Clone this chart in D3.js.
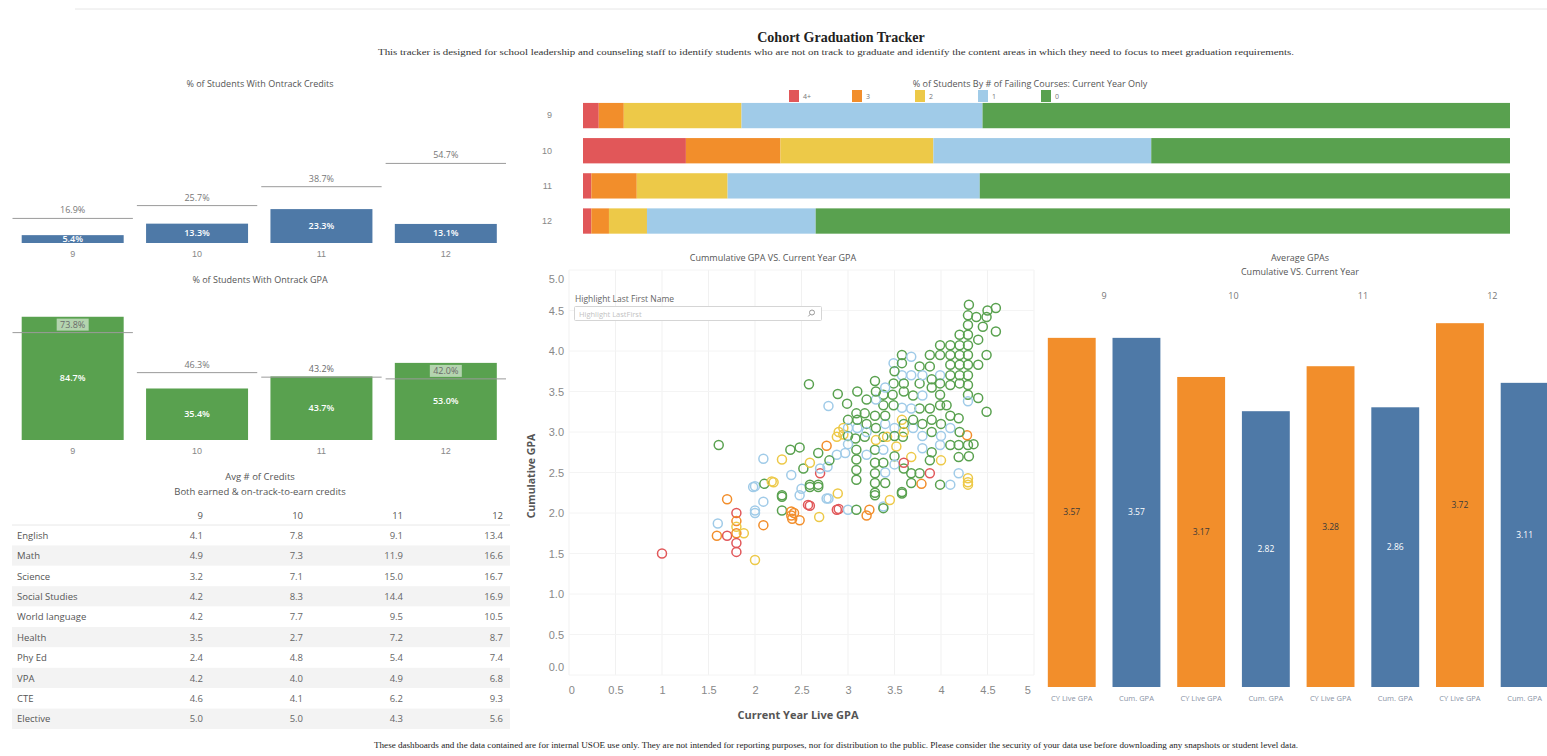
<!DOCTYPE html>
<html><head><meta charset="utf-8">
<script src="https://cdn.jsdelivr.net/npm/d3@7"></script>
<style>
html,body{margin:0;padding:0;background:#fff;overflow:hidden}
svg{display:block;font-family:"Open Sans",sans-serif}
.ttl{font-size:9px;fill:#555}
.tick text{fill:#888}
</style></head><body>
<svg id="c" width="1547" height="756"></svg>
<script>
// ---------- DATA ----------
const grades = ["9","10","11","12"];
const ontrackCredits = [5.4, 13.3, 23.3, 13.1];
const creditsTarget = [16.9, 25.7, 38.7, 54.7];
const ontrackGPA = [84.7, 35.4, 43.7, 53.0];
const gpaTarget = [73.8, 46.3, 43.2, 42.0];

const failCats = ["4+","3","2","1","0"];
const failColors = ["#e15759","#f28e2b","#edc948","#a0cbe8","#59a14f"];
const fail9  = [1.7, 2.7, 12.7, 26.0, 56.9];
const fail10 = [11.1, 10.2, 16.5, 23.5, 38.7];
const fail11 = [0.9, 4.9, 9.8, 27.2, 57.2];
const fail12 = [0.9, 1.9, 4.1, 18.2, 74.9];

const subjects = ["English","Math","Science","Social Studies","World language","Health","Phy Ed","VPA","CTE","Elective"];
const credits9  = [4.1, 4.9, 3.2, 4.2, 4.2, 3.5, 2.4, 4.2, 4.6, 5.0];
const credits10 = [7.8, 7.3, 7.1, 8.3, 7.7, 2.7, 4.8, 4.0, 4.1, 5.0];
const credits11 = [9.1, 11.9, 15.0, 14.4, 9.5, 7.2, 5.4, 4.9, 6.2, 4.3];
const credits12 = [13.4, 16.6, 16.7, 16.9, 10.5, 8.7, 7.4, 6.8, 9.3, 5.6];

const gpaMeasures = ["CY Live GPA","Cum. GPA"];
const cyLiveGPA = [3.57, 3.17, 3.28, 3.72];
const cumGPA = [3.57, 2.82, 2.86, 3.11];

const scatterTicks = [0,0.5,1,1.5,2,2.5,3,3.5,4,4.5,5];
// [current year GPA, cumulative GPA, number of failing courses (4 = 4+)]
const scatterPoints = [
[1.0,1.5,4],[1.6,1.87,1],[1.59,1.72,3],[1.7,1.72,4],[1.7,2.17,3],[1.8,2.0,4],[1.8,1.9,3],[1.8,1.83,2],
[1.8,1.75,3],[1.8,1.63,4],[1.8,1.52,4],[1.88,1.75,2],[2.0,1.42,2],[2.0,2.0,1],[2.0,2.03,1],[1.98,2.32,1],
[2.0,2.33,1],[2.09,2.14,1],[2.09,1.85,3],[2.1,2.36,0],[2.09,2.67,1],[2.18,2.39,2],[2.2,2.38,2],[2.29,2.22,0],
[2.29,2.03,0],[2.29,2.2,0],[2.29,2.66,2],[2.38,2.78,0],[2.39,2.47,1],[2.39,2.02,3],[2.39,1.97,3],[2.4,1.93,3],
[2.42,2.0,3],[2.48,1.91,3],[2.48,2.22,1],[2.48,2.81,0],[2.52,2.55,0],[2.5,2.3,1],[2.57,2.1,4],[2.59,2.09,4],
[2.59,2.32,0],[2.59,2.62,2],[2.59,2.35,0],[2.68,2.32,0],[2.68,2.74,0],[2.68,2.35,0],[2.69,1.95,2],[2.7,2.49,4],
[2.77,2.83,3],[2.77,2.18,1],[2.78,2.57,1],[2.79,2.18,1],[2.88,2.94,2],[2.88,2.72,1],[2.88,2.04,4],[2.89,2.24,2],
[2.9,2.05,4],[2.95,2.97,2],[2.97,2.74,1],[3.0,2.04,1],[3.08,2.92,0],[3.09,2.78,0],[3.09,2.66,0],[3.09,2.53,0],
[3.09,2.41,0],[3.09,2.04,0],[3.18,2.94,0],[3.2,2.72,1],[3.2,1.97,3],[3.23,2.04,3],[3.29,2.78,0],[3.29,2.62,0],
[3.29,2.49,0],[3.29,2.37,0],[3.29,2.25,0],[3.29,2.22,0],[3.38,2.94,0],[3.38,2.78,1],[3.38,2.62,0],[3.38,2.08,1],
[3.38,2.06,0],[3.4,2.37,0],[3.42,2.94,2],[3.45,2.16,2],[3.52,2.82,2],[3.58,2.26,0],[3.58,2.24,0],[3.59,2.94,0],
[3.68,2.69,2],[3.68,2.49,0],[3.68,2.37,0],[3.77,2.49,0],[3.79,2.36,3],[3.88,2.65,0],[3.88,2.49,4],[3.99,2.84,1],
[3.99,2.35,0],[4.1,2.84,0],[4.1,2.35,1],[4.19,2.84,0],[4.19,2.69,0],[4.19,2.49,1],[4.29,2.84,0],[4.28,2.96,3],
[4.29,2.43,2],[4.29,2.35,2],[4.29,2.38,2],
[2.58,3.59,0],[1.61,2.84,0],[2.89,3.47,0],[2.79,3.32,1],[2.99,3.35,0],[3.09,3.23,0],[3.0,3.15,0],[3.18,3.23,0],
[3.29,3.63,0],[3.49,3.85,1],[3.58,3.95,0],[3.68,3.93,1],[3.58,3.85,0],[3.49,3.6,0],[3.38,3.46,0],[3.48,3.46,0],
[3.58,3.7,1],[3.68,3.7,1],[3.77,3.81,0],[3.77,3.6,0],[3.88,3.95,0],[3.88,3.81,0],[3.99,4.07,0],[3.99,3.95,0],
[3.99,3.7,1],[3.99,3.6,0],[3.99,3.46,0],[4.1,4.07,0],[4.1,3.95,0],[4.1,3.83,0],[4.1,3.7,0],[4.1,3.58,0],
[4.2,4.2,0],[4.2,4.07,0],[4.2,3.95,0],[4.2,3.83,0],[4.2,3.7,0],[4.2,3.6,0],[4.29,4.44,0],[4.29,4.32,0],
[4.29,4.2,0],[4.29,4.07,0],[4.29,3.95,0],[4.29,3.83,0],[4.29,3.7,0],[4.29,3.58,0],[4.29,3.46,0],[4.29,3.38,1],
[4.38,4.42,0],[4.49,4.42,0],[4.59,4.53,0],[4.59,4.24,0],[4.4,4.14,0],[4.49,3.95,0],[4.4,3.83,0],[4.4,3.42,0],
[4.49,3.25,0],[4.19,3.17,0],[4.06,3.33,0],[3.99,3.33,0],[3.88,3.29,0],[3.77,3.29,0],[3.68,3.29,1],[3.58,3.3,1],
[3.49,3.33,0],[3.38,3.33,0],[3.29,3.2,0],[3.58,3.15,2],
[2.9,3.0,2],[2.95,3.05,2],[3.0,2.95,0],[3.0,3.05,1],[3.1,3.05,1],[3.1,3.15,0],[3.2,3.1,0],[3.2,3.0,1],
[3.3,3.05,0],[3.3,2.9,2],[3.4,3.1,1],[3.4,3.2,0],[3.5,3.05,1],[3.5,2.95,0],[3.6,3.1,0],[3.6,3.0,2],
[3.7,3.05,1],[3.7,3.15,0],[3.8,3.1,0],[3.8,2.95,1],[3.9,3.15,0],[3.9,3.0,0],[4.0,3.1,0],[4.0,2.95,1],
[4.1,3.2,0],[4.1,3.05,1],[4.2,3.0,0],[3.3,3.4,1],[3.2,3.4,0],[3.1,3.5,0],[3.3,3.5,0],[3.4,3.55,1],
[3.6,3.5,0],[3.7,3.45,0],[3.8,3.45,1],[3.9,3.55,0],[3.5,3.75,0],[3.6,3.6,0],[3.8,3.7,1],[3.9,3.65,0],
[4.3,4.57,0],[4.45,4.3,0],[4.5,4.5,0],[3.0,2.85,1],[2.8,2.65,0],[2.7,2.55,1],[3.5,2.7,0],[3.5,2.6,1],
[3.6,2.55,0],[3.4,2.5,1],[3.9,2.75,0],[3.8,2.8,1],[4.0,2.65,2],[4.35,2.85,0],[4.3,2.7,0],[3.6,2.62,4]
];

// ---------- DRAW ----------
const svg = d3.select("#c");
const BLUE = "#4e79a7", GREEN = "#59a14f", ORANGE = "#f28e2b";
const failColor = n => failColors[failCats.indexOf(n >= 4 ? "4+" : String(n))];

svg.append("line").attr("x1",75).attr("x2",1547).attr("y1",9).attr("y2",9).attr("stroke","#e6e6e6");

svg.append("text").attr("x",841).attr("y",42).attr("text-anchor","middle")
  .style("font-family","'Liberation Serif',serif").style("font-weight","bold").style("font-size","14px").attr("fill","#222")
  .text("Cohort Graduation Tracker");
svg.append("text").attr("x",836).attr("y",55).attr("text-anchor","middle")
  .style("font-family","'Liberation Serif',serif").style("font-size","8px").attr("fill","#333")
  .attr("textLength",916).attr("lengthAdjust","spacingAndGlyphs")
  .text("This tracker is designed for school leadership and counseling staff to identify students who are not on track to graduate and identify the content areas in which they need to focus to meet graduation requirements.");
svg.append("text").attr("x",836).attr("y",748).attr("text-anchor","middle")
  .style("font-family","'Liberation Serif',serif").style("font-size","7.5px").attr("fill","#222")
  .attr("textLength",924).attr("lengthAdjust","spacingAndGlyphs")
  .text("These dashboards and the data contained are for internal USOE use only. They are not intended for reporting purposes, nor for distribution to the public. Please consider the security of your data use before downloading any snapshots or student level data.");

function pctChart(vals, targets, color, y0, titleY, title){
  const x = d3.scaleBand().domain(grades).range([10.5, 508]);
  const y = d3.scaleLinear().domain([0,100]).range([y0, y0-145.5]);
  const g = svg.append("g");
  g.append("text").attr("class","ttl").attr("x",260).attr("y",titleY).attr("text-anchor","middle").text(title);
  const bw = x.bandwidth()*0.82;
  const data = grades.map((gr,i)=>({gr, v:vals[i], t:targets[i]}));
  g.selectAll("rect.bar").data(data).join("rect").attr("class","bar")
    .attr("x",d=>x(d.gr)+(x.bandwidth()-bw)/2).attr("width",bw)
    .attr("y",d=>y(d.v)).attr("height",d=>y0-y(d.v)).attr("fill",color);
  g.selectAll("line.ref").data(data).join("line").attr("class","ref")
    .attr("x1",d=>x(d.gr)+2).attr("x2",d=>x(d.gr)+x.bandwidth()-2)
    .attr("y1",d=>y(d.t)).attr("y2",d=>y(d.t)).attr("stroke","#9a9a9a").attr("stroke-width",1);
  data.forEach(d=>{
    const cx = x(d.gr)+x.bandwidth()/2;
    const ty = y(d.t)-8;
    if (d.t < d.v) {
      g.append("rect").attr("x",cx-16).attr("y",ty-6).attr("width",32).attr("height",12)
        .attr("fill","#fff").attr("opacity",0.55);
    }
    g.append("text").attr("x",cx).attr("y",ty+3).attr("text-anchor","middle")
      .style("font-size","9px").attr("fill", d.t < d.v ? "#6a6a6a" : "#777").text(d.t.toFixed(1)+"%");
    g.append("text").attr("x",cx).attr("y",(y(d.v)+y0)/2+3).attr("text-anchor","middle")
      .style("font-size","9px").style("font-weight","600").attr("fill","#fff").text(d.v.toFixed(1)+"%");
  });
  const ax = g.append("g").attr("transform",`translate(0,${y0})`)
    .call(d3.axisBottom(x).tickSize(0).tickPadding(8));
  ax.select(".domain").remove();
  ax.selectAll("text").style("font-size","9px");
}
pctChart(ontrackCredits, creditsTarget, BLUE, 243, 87, "% of Students With Ontrack Credits");
pctChart(ontrackGPA, gpaTarget, GREEN, 440, 283, "% of Students With Ontrack GPA");

{
  const g = svg.append("g");
  g.append("text").attr("x",260).attr("y",480).attr("text-anchor","middle").style("font-size","9.5px").attr("fill","#555").text("Avg # of Credits");
  g.append("text").attr("x",260).attr("y",495).attr("text-anchor","middle").style("font-size","9.5px").attr("fill","#555").text("Both earned & on-track-to-earn credits");
  const colX = d3.scalePoint().domain(grades).range([203,503]);
  const rowY = d3.scaleBand().domain(subjects).range([525, 729]);
  const cols = [credits9, credits10, credits11, credits12];
  g.selectAll("rect.row").data(subjects).join("rect").attr("class","row")
    .attr("x",12).attr("width",498).attr("y",d=>rowY(d)).attr("height",rowY.bandwidth())
    .attr("fill",(d,i)=> i%2 ? "#f3f3f3" : "#fff");
  g.append("line").attr("x1",12).attr("x2",510).attr("y1",525).attr("y2",525).attr("stroke","#e8e8e8");
  g.selectAll("text.hdr").data(grades).join("text").attr("class","hdr")
    .attr("x",d=>colX(d)).attr("y",519).attr("text-anchor","end").style("font-size","9.5px").attr("fill","#555").text(d=>d);
  g.selectAll("text.lbl").data(subjects).join("text").attr("class","lbl")
    .attr("x",17).attr("y",d=>rowY(d)+rowY.bandwidth()/2+3.5).style("font-size","9.5px").attr("fill","#555").text(d=>d);
  grades.forEach((gr,ci)=>{
    g.selectAll("text.v"+ci).data(cols[ci]).join("text").attr("class","v"+ci)
      .attr("x",colX(gr)).attr("y",(d,i)=>rowY(subjects[i])+rowY.bandwidth()/2+3.5)
      .attr("text-anchor","end").style("font-size","9.5px").attr("fill","#666").text(d=>d.toFixed(1));
  });
}

{
  const g = svg.append("g");
  g.append("text").attr("class","ttl").attr("x",1030).attr("y",87).attr("text-anchor","middle")
    .text("% of Students By # of Failing Courses: Current Year Only");
  const legX = d3.scalePoint().domain(failCats).range([789, 1041]);
  failCats.forEach((c,i)=>{
    g.append("rect").attr("x",legX(c)).attr("y",90).attr("width",10).attr("height",12).attr("fill",failColors[i]);
    g.append("text").attr("x",legX(c)+14).attr("y",99).style("font-size","7px").attr("fill","#777").text(c);
  });
  const rows = [fail9, fail10, fail11, fail12].map((a,i)=>{
    const o = {grade: grades[i]}; failCats.forEach((c,j)=>o[c]=a[j]); return o;
  });
  const series = d3.stack().keys(failCats)(rows);
  const x = d3.scaleLinear().domain([0,100]).range([583,1510]);
  const y = d3.scaleBand().domain(grades).range([98,238.6]).paddingInner(0.28).paddingOuter(0.14);
  series.forEach((s,i)=>{
    g.selectAll("rect.s"+i).data(s).join("rect").attr("class","s"+i)
      .attr("x",d=>x(d[0])).attr("width",d=>x(d[1])-x(d[0]))
      .attr("y",d=>y(d.data.grade)).attr("height",y.bandwidth()).attr("fill",failColors[i]);
  });
  const ax = g.append("g").attr("transform","translate(583,0)").call(d3.axisLeft(y).tickSize(0).tickPadding(31));
  ax.select(".domain").remove();
  ax.selectAll("text").style("font-size","9px");
}

{
  const g = svg.append("g");
  g.append("text").attr("class","ttl").attr("x",773).attr("y",261).attr("text-anchor","middle")
    .text("Cummulative GPA VS. Current Year GPA");
  const x = d3.scaleLinear().domain([0,5]).range([569,1034]);
  const y = d3.scaleLinear().domain([0,5]).range([675,270]);
  g.selectAll("line.gx").data(scatterTicks).join("line").attr("class","gx")
    .attr("x1",d=>x(d)).attr("x2",d=>x(d)).attr("y1",270).attr("y2",675).attr("stroke","#f1f1f1");
  g.selectAll("line.gy").data(scatterTicks).join("line").attr("class","gy")
    .attr("x1",569).attr("x2",1034).attr("y1",d=>y(d)).attr("y2",d=>y(d)).attr("stroke","#f4f4f4");
  const ay = g.append("g").attr("transform","translate(569,0)")
    .call(d3.axisLeft(y).tickValues(scatterTicks).tickFormat(d3.format(".1f")).tickSize(0).tickPadding(5));
  ay.select(".domain").remove();
  ay.selectAll("text").style("font-size","11px");
  ay.selectAll(".tick").filter(d=>d===5).select("text").attr("dy","1.1em");
  ay.selectAll(".tick").filter(d=>d===0).select("text").attr("dy","-0.4em");
  const axx = g.append("g").attr("transform","translate(0,675)")
    .call(d3.axisBottom(x).tickValues(scatterTicks).tickFormat(d3.format("~g")).tickSize(0).tickPadding(11));
  axx.select(".domain").remove();
  axx.selectAll("text").style("font-size","11px");
  axx.selectAll(".tick").filter(d=>d===5).select("text").attr("dx","-0.6em");
  axx.selectAll(".tick").filter(d=>d===0).select("text").attr("dx","0.2em");
  g.append("text").attr("x",798).attr("y",719).attr("text-anchor","middle")
    .style("font-size","11px").style("font-weight","bold").attr("fill","#555").text("Current Year Live GPA");
  g.append("text").attr("transform","translate(535,476) rotate(-90)").attr("text-anchor","middle")
    .style("font-size","10.5px").style("font-weight","bold").attr("fill","#555").text("Cumulative GPA");
  g.selectAll("circle").data(scatterPoints).join("circle")
    .attr("cx",d=>x(d[0])).attr("cy",d=>y(d[1])).attr("r",4.5)
    .attr("fill","none").attr("stroke",d=>failColor(d[2])).attr("stroke-width",1.5);
  g.append("text").attr("x",575).attr("y",302).style("font-size","8.5px").attr("fill","#666").text("Highlight Last First Name");
  g.append("rect").attr("x",574.5).attr("y",306.5).attr("width",247).attr("height",14).attr("rx",1)
    .attr("fill","#fff").attr("stroke","#d5d5d5");
  g.append("text").attr("x",579).attr("y",317).style("font-size","7.5px").attr("fill","#c2c2c2").text("Highlight LastFirst");
  g.append("circle").attr("cx",812).attr("cy",312.5).attr("r",2.5).attr("fill","none").attr("stroke","#999");
  g.append("line").attr("x1",810.2).attr("y1",314.3).attr("x2",808.3).attr("y2",316.4).attr("stroke","#999");
}

{
  const g = svg.append("g");
  g.append("text").attr("class","ttl").attr("x",1300).attr("y",261).attr("text-anchor","middle").text("Average GPAs");
  g.append("text").attr("class","ttl").attr("x",1300).attr("y",275).attr("text-anchor","middle").text("Cumulative VS. Current Year");
  const xg = d3.scaleBand().domain(grades).range([1039.4,1557]);
  const xm = d3.scaleBand().domain(gpaMeasures).range([0,xg.bandwidth()]).paddingInner(0.26).paddingOuter(0.13);
  const y = d3.scaleLinear().domain([0,1]).range([687,589.2]);
  const data = [];
  grades.forEach((gr,i)=>{
    data.push({gr, m:gpaMeasures[0], v:cyLiveGPA[i], c:ORANGE, tc:"#3a3a3a"});
    data.push({gr, m:gpaMeasures[1], v:cumGPA[i], c:BLUE, tc:"#fff"});
  });
  g.selectAll("text.gh").data(grades).join("text").attr("class","gh")
    .attr("x",d=>xg(d)+xg.bandwidth()/2).attr("y",299).attr("text-anchor","middle")
    .style("font-size","9px").attr("fill","#777").text(d=>d);
  g.selectAll("rect").data(data).join("rect")
    .attr("x",d=>xg(d.gr)+xm(d.m)).attr("width",xm.bandwidth())
    .attr("y",d=>y(d.v)).attr("height",d=>687-y(d.v)).attr("fill",d=>d.c);
  g.selectAll("text.bv").data(data).join("text").attr("class","bv")
    .attr("x",d=>xg(d.gr)+xm(d.m)+xm.bandwidth()/2).attr("y",d=>(y(d.v)+687)/2+3)
    .attr("text-anchor","middle").style("font-size","8.5px").attr("fill",d=>d.tc).text(d=>d.v.toFixed(2));
  g.selectAll("text.bl").data(data).join("text").attr("class","bl")
    .attr("x",d=>xg(d.gr)+xm(d.m)+xm.bandwidth()/2).attr("y",701)
    .attr("text-anchor","middle").style("font-size","7.5px").attr("fill","#8a94a6").text(d=>d.m);
}
</script>
</body></html>
